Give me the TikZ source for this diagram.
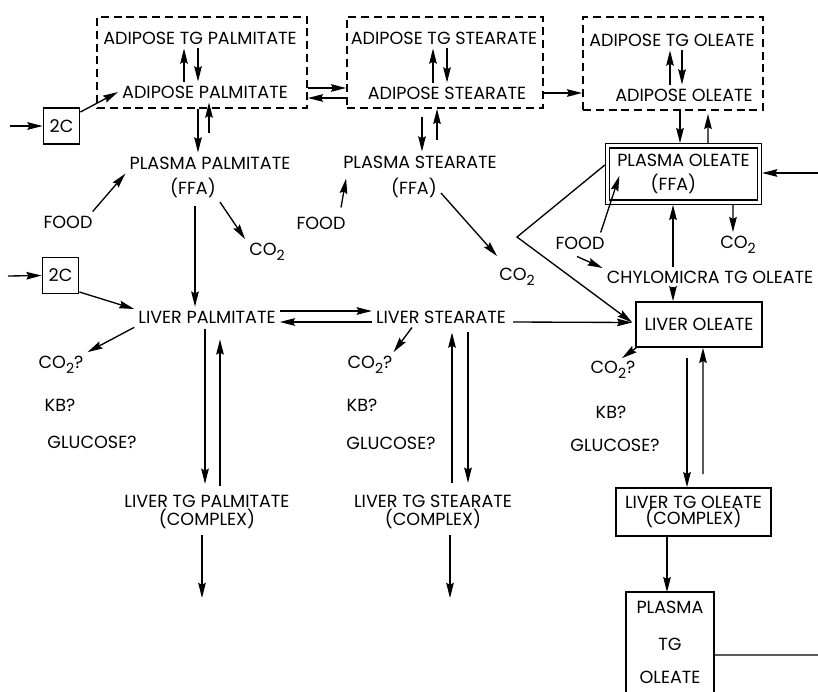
\documentclass[tikz,border=0pt]{standalone}
\usepackage{fontspec}
\setmainfont{Poppins}
\usetikzlibrary{arrows.meta,calc}

\newcommand{\cotwo}{CO\raisebox{-3.5pt}{\normalsize 2}}

\tikzset{
    px/.style={x=0.025cm, y=-0.025cm},
    txt/.style={inner sep=2.8pt, font=\fontsize{12.5}{15}\selectfont},
    arr/.style={-{Stealth[length=3.8mm, width=1.9mm, inset=0.5mm]}, line width=0.95pt},
    pool/.style={draw, dash pattern=on 0.2cm off 0.12cm, line width=1.2pt, inner sep=0pt},
    bx/.style={txt, draw, line width=1.1pt, inner sep=0pt, align=center},
    sq/.style={bx, line width=1.3pt, minimum size=0.9cm},
}

\begin{document}
\begin{tikzpicture}[px]
        \useasboundingbox (0,0) rectangle (818,692);
        \node[pool, minimum width=5.25cm, minimum height=2.275cm] (b1) at (202,62.5) {};
        \node[pool, minimum width=4.9cm,  minimum height=2.275cm] (b2) at (445,62.5) {};
        \node[pool, minimum width=4.5cm,  minimum height=2.325cm] (b3) at (673,63.5) {};
        \node[txt] (atp) at (200,38)  {ADIPOSE TG PALMITATE};
        \node[txt] (ap)  at (205,92)  {ADIPOSE PALMITATE};
        \node[txt] (ats) at (444,38)  {ADIPOSE TG STEARATE};
        \node[txt] (ast) at (447,93)  {ADIPOSE STEARATE};
        \node[txt] (ato) at (672,40)  {ADIPOSE TG OLEATE};
        \node[txt] (ao)  at (684,95)  {ADIPOSE OLEATE};
        \node[sq]  (c1)  at (61.5,126) {2C};
        \node[sq]  (c2)  at (60.5,275.5) {2C};
        \node[txt] (pp)  at (210,163) {PLASMA PALMITATE};
        \node[txt] (ppf) at (193,188) {(FFA)};
        \node[txt] (ps)  at (420,162) {PLASMA STEARATE};
        \node[txt] (psf) at (414,188) {(FFA)};
        \node[bx, double, double distance=2.4pt, line width=0.9pt, align=left,
              minimum width=3.8cm, minimum height=1.41cm] (po) at (683.5,174)
              {PLASMA OLEATE\\[2pt]\hspace*{1.9em}(FFA)};
        \node[txt] (fd1) at (68,222)  {FOOD};
        \node[txt] (fd2) at (321,223) {FOOD};
        \node[txt] (fd3) at (580,243) {FOOD};
        \node[txt] (ca)  at (267,252) {\cotwo};
        \node[txt] (cb)  at (517,277) {\cotwo};
        \node[txt] (ce)  at (738,245) {\cotwo};
        \node[txt] (chy) at (710,277) {CHYLOMICRA TG OLEATE};
        \node[txt] (lp)  at (207,317) {LIVER PALMITATE};
        \node[txt] (ls)  at (441,317) {LIVER STEARATE};
        \node[bx, minimum width=3.15cm, minimum height=1.125cm] (lo) at (699,324.5) {LIVER OLEATE};
        \node[txt] (q1)  at (61,365)  {\cotwo?};
        \node[txt] (k1)  at (60,405)  {KB?};
        \node[txt] (g1)  at (92,442)  {GLUCOSE?};
        \node[txt] (q2)  at (370,365) {\cotwo?};
        \node[txt] (k2)  at (362,405) {KB?};
        \node[txt] (g2)  at (391,443) {GLUCOSE?};
        \node[txt] (q3)  at (613,370) {\cotwo?};
        \node[txt] (k3)  at (611,412) {KB?};
        \node[txt] (g3)  at (615,445) {GLUCOSE?};
        \node[txt, align=center] (ltp) at (207,512) {LIVER TG PALMITATE\\[-2pt](COMPLEX)};
        \node[txt, align=center] (lts) at (433,512) {LIVER TG STEARATE\\[-2pt](COMPLEX)};
        \node[bx, minimum width=3.875cm, minimum height=1.2cm] (lto) at (693.5,512)
              {LIVER TG OLEATE\\[-4pt](COMPLEX)};
        \node[bx, draw=none, minimum width=2.15cm, minimum height=2.475cm] (ptg) at (670,642.5)
              {PLASMA\\[11pt]TG\\[8.4pt]OLEATE};
        \coordinate (i1) at (10,126);
        \coordinate (i2) at (8,276);
        \coordinate (i3) at (818,173);
        \coordinate (o1) at (202,598);
        \coordinate (o2) at (450,598);
        \coordinate (o3) at (818,655);
        \coordinate (v)  at (517,237);

        \draw[arr] (i1) -- (c1.west);
        \draw[arr] ($(c1.east)+(0,-14)$) -- (ap.west);
        \draw[arr] ($(ap.north)+(-21,0)$) -- ($(atp.south)+(-16,0)$);
        \draw[arr] ($(atp.south)+(-2,0)$) -- ($(ap.north)+(-7,0)$);
        \draw[arr] ($(b1.east)+(0,25.5)$) -- ($(b2.west)+(0,25.5)$);
        \draw[arr] ($(b2.west)+(0,35.5)$) -- ($(b1.east)+(0,35.5)$);
        \draw[arr] ($(ast.north)+(-14,0)$) -- ($(ats.south)+(-11,0)$);
        \draw[arr] ($(ats.south)+(3,0)$) -- (ast.north);
        \draw[arr] ($(b2.east)+(0,30.5)$) -- ($(b3.west)+(0,29.5)$);
        \draw[arr] ($(ao.north)+(-14,0)$) -- ($(ato.south)+(-2,0)$);
        \draw[arr] ($(ato.south)+(10,0)$) -- ($(ao.north)+(-2,0)$);
        \draw[arr] ($(b1.south)+(-4,0)$) -- ($(pp.north)+(-12,0)$);
        \draw[arr] ($(pp.north)+(-1,-20)$) -- ($(ap.south)+(4,0)$);
        \draw[arr] ($(fd1.north east)+(-4,0)$) -- (pp.south west);
        \draw[arr] (ppf.south east) -- (ca.north west);
        \draw[arr] ($(ppf.south)+(2,4)$) -- ($(lp.north)+(-12,0)$);
        \draw[arr] ($(b2.south)+(-23,8)$) -- ($(ps.north)+(2,0)$);
        \draw[arr] ($(ps.north)+(17,-12)$) -- ($(b2.south)+(-8,0)$);
        \draw[arr] ($(fd2.north)+(20,-5)$) -- ($(ps.south west)+(7,6)$);
        \draw[arr] ($(psf.east)+(0,5)$) -- ($(cb.north west)+(2,-8)$);
        \draw[arr] (i2) -- (c2.west);
        \draw[arr] ($(c2.east)+(0,16.5)$) -- ($(lp.west)+(0,-8)$);
        \draw[arr] (lp.south west) -- (q1.north east);
        \draw[arr] ($(lp.east)+(0,-6)$) -- ($(ls.west)+(0,-6)$);
        \draw[arr] ($(ls.west)+(0,5)$) -- ($(lp.east)+(0,5)$);
        \draw[arr] ($(lp.south)+(-2,2)$) -- ($(ltp.north)+(-2,-7)$);
        \draw[arr] ($(ltp.north)+(13,-5)$) -- ($(lp.south)+(13,12)$);
        \draw[arr] ($(ltp.south)+(-5,2)$) -- (o1);
        \draw[arr] ($(ls.south)+(-29,0)$) -- ($(q2.north east)+(-3,0)$);
        \draw[arr] ($(lts.north)+(19,-8)$) -- ($(ls.south)+(11,5)$);
        \draw[arr] ($(ls.south)+(27,5)$) -- ($(lts.north)+(35,-8)$);
        \draw[arr] ($(lts.south)+(17,2)$) -- (o2);
        \draw[arr] ($(ls.east)+(3,5)$) -- ($(lo.west)+(-3,-2)$);
        \draw[arr] ($(b3.south)+(7,0)$) -- ($(po.north)+(-3.5,-2)$);
        \draw[arr] ($(po.north)+(24.5,-2)$) -- ($(b3.south)+(35,3)$);
        \draw[arr] (i3) -- ($(po.east)+(2,-1)$);
        \draw[arr] ($(fd3.north east)+(-8,0)$) -- ($(po.south west)+(12.5,-27)$);
        \draw[arr] ($(po.south)+(49.5,2)$) -- ($(ce.north)+(-5,0)$);
        \draw[arr] ($(chy.north)+(-37,0)$) -- ($(po.south)+(-10.5,2)$);
        \draw[arr] ($(chy.south)+(-37,0)$) -- ($(lo.north)+(-26,0)$);
        \draw[arr] ($(fd3.south)+(-3,3)$) -- ($(chy.west)+(0,-9)$);
        \draw[arr] ($(po.west)+(-2,-9)$) -- (v) -- ($(lo.west)+(-3,-2)$);
        \draw[arr] ($(lo.south west)+(1,0)$) -- ($(q3.north)+(9,1)$);
        \draw[arr] ($(lo.south)+(-12,10)$) -- ($(lto.north)+(-6.5,0)$);
        \draw[arr] ($(lto.north)+(9.5,-13)$) -- ($(lo.south)+(4,0)$);
        \draw[arr] ($(lto.south)+(-26.5,0)$) -- ($(ptg.north)+(-3,0)$);
        \draw[line width=1.1pt] (ptg.south west) |- (ptg.north east) -- (ptg.south east);
        \draw[line width=0.95pt] ($(ptg.east)+(0,12.5)$) -- (o3);
\end{tikzpicture}
\end{document}
